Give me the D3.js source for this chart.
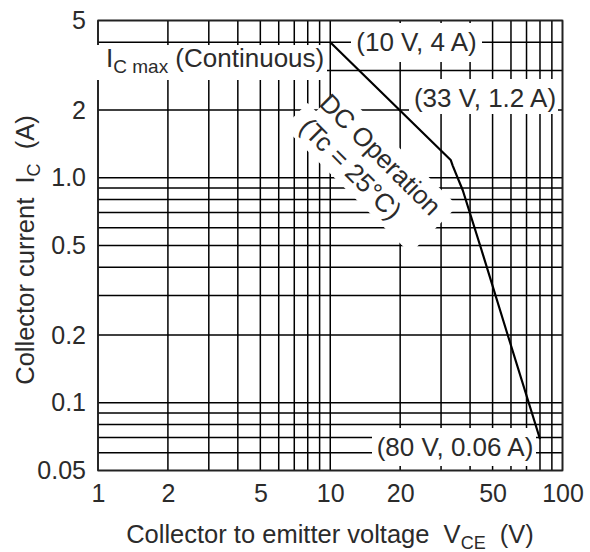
<!DOCTYPE html>
<html><head><meta charset="utf-8">
<script src="https://cdn.jsdelivr.net/npm/d3@7"></script>
<style>
html,body{margin:0;padding:0;background:#fff;}
svg{display:block;font-family:"Liberation Sans",Arial,Helvetica,sans-serif;}
</style></head>
<body>
<svg id="chart" width="590" height="552"></svg>
<script>
// ---- data ----
const xTicks = [1, 2, 5, 10, 20, 50, 100];
const xTickLabels = ["1", "2", "5", "10", "20", "50", "100"];
const yTicks = [0.05, 0.1, 0.2, 0.5, 1, 2, 5];
const yTickLabels = ["0.05", "0.1", "0.2", "0.5", "1.0", "2", "5"];
const xGrid = [1, 2, 3, 4, 5, 6, 7, 8, 9, 10, 20, 30, 40, 50, 60, 70, 80, 90, 100];
const yGrid = [0.05, 0.06, 0.07, 0.08, 0.09, 0.1, 0.2, 0.3, 0.4, 0.5, 0.6, 0.7, 0.8, 0.9, 1, 2, 3, 4, 5];
const soaVoltage = [10, 33, 33.7, 34.8, 37.2, 44.6, 59, 80];
const soaCurrent = [4, 1.2, 1.13, 1.04, 0.88, 0.485, 0.19, 0.069];
const pointLabels = ["(10 V, 4 A)", "(33 V, 1.2 A)", "(80 V, 0.06 A)"];

// ---- layout ----
const svg = d3.select("#chart");
const x = d3.scaleLog().domain([1, 100]).range([98, 562.5]);
const y = d3.scaleLog().domain([0.05, 5]).range([470.5, 20.5]);
const FS = 25;
const FA = 26;
const ink = "#2b2b2b";

// grid
const g = svg.append("g");
g.selectAll("line.v").data(xGrid).join("line")
  .attr("x1", d => x(d)).attr("x2", d => x(d))
  .attr("y1", y(5)).attr("y2", y(0.05))
  .attr("stroke", "#000").attr("stroke-width", 1.5);
g.selectAll("line.h").data(yGrid).join("line")
  .attr("y1", d => y(d)).attr("y2", d => y(d))
  .attr("x1", x(1)).attr("x2", x(100))
  .attr("stroke", "#000").attr("stroke-width", 1.5);

// frame
svg.append("rect").attr("x", x(1)).attr("y", y(5))
  .attr("width", x(100) - x(1)).attr("height", y(0.05) - y(5))
  .attr("fill", "none").attr("stroke", "#222").attr("stroke-width", 1.6);

// axes tick labels
const xAxis = d3.axisBottom(x).tickValues(xTicks).tickFormat((d, i) => xTickLabels[i]).tickSize(0).tickPadding(14);
const xa = svg.append("g").attr("transform", `translate(0,${y(0.05)})`).call(xAxis);
xa.select(".domain").remove();
xa.selectAll("text").attr("font-size", FS).attr("fill", ink).attr("font-family", "Liberation Sans, Arial, sans-serif");

const yAxis = d3.axisLeft(y).tickValues(yTicks).tickFormat((d, i) => yTickLabels[i]).tickSize(0).tickPadding(12);
const ya = svg.append("g").attr("transform", `translate(${x(1)},0)`).call(yAxis);
ya.select(".domain").remove();
ya.selectAll("text").attr("font-size", FS).attr("fill", ink).attr("font-family", "Liberation Sans, Arial, sans-serif");

// masks (white boxes behind annotations)
const masks = svg.append("g").attr("fill", "#fff");
masks.append("rect").attr("x", 95).attr("y", 45).attr("width", 232).attr("height", 35);
masks.append("rect").attr("x", 351).attr("y", 23).attr("width", 131).attr("height", 39);
masks.append("rect").attr("x", 409).attr("y", 79).attr("width", 149).attr("height", 35);
masks.append("rect").attr("x", 372).attr("y", 428).attr("width", 164).attr("height", 38);

// annotation text
const ann = svg.append("g").attr("fill", ink).attr("font-size", FA);
const ic = ann.append("text").attr("x", 106).attr("y", 67);
ic.append("tspan").text("I");
ic.append("tspan").attr("dy", 6).attr("font-size", 19).text("C max");
ic.append("tspan").attr("dy", -6).text(" (Continuous)");

ann.append("text").attr("x", 416.5).attr("y", 51).attr("text-anchor", "middle").text(pointLabels[0]);
ann.append("text").attr("x", 485).attr("y", 107).attr("text-anchor", "middle").text(pointLabels[1]);
ann.append("text").attr("x", 455).attr("y", 456).attr("text-anchor", "middle").text(pointLabels[2]);

// DC operation rotated label
const dc = svg.append("g").attr("transform", "translate(380.5,154.5) rotate(45)");
dc.append("rect").attr("x", -76).attr("y", -18).attr("width", 167).attr("height", 34).attr("fill", "#fff");
dc.append("rect").attr("x", -88).attr("y", 15).attr("width", 179).attr("height", 34).attr("fill", "#fff");
dc.append("text").attr("x", 0).attr("y", 9).attr("text-anchor", "middle")
  .attr("font-size", FA).attr("fill", ink).text("DC Operation");
dc.append("text").attr("x", -11).attr("y", 40).attr("text-anchor", "middle")
  .attr("font-size", FA).attr("fill", ink).text("(Tc = 25°C)");

// SOA curve
const pts = soaVoltage.map((v, i) => [v, soaCurrent[i]]);
svg.append("path").datum(pts)
  .attr("d", d3.line().x(d => x(d[0])).y(d => y(d[1])))
  .attr("fill", "none").attr("stroke", "#000").attr("stroke-width", 2.2)
  .attr("stroke-linejoin", "round");

// axis titles
const xt = svg.append("text").attr("x", 330).attr("y", 543).attr("text-anchor", "middle")
  .attr("font-size", FS + 0.5).attr("fill", ink);
xt.append("tspan").text("Collector to emitter voltage\u00A0\u00A0V");
xt.append("tspan").attr("dy", 6).attr("font-size", 18).text("CE");
xt.append("tspan").attr("dy", -6).text("\u00A0\u00A0(V)");

const yt = svg.append("text").attr("transform", "translate(34,250) rotate(-90)")
  .attr("text-anchor", "middle").attr("font-size", FS + 0.5).attr("fill", ink);
yt.append("tspan").text("Collector current\u00A0\u00A0I");
yt.append("tspan").attr("dy", 6).attr("font-size", 18).text("C");
yt.append("tspan").attr("dy", -6).text("\u00A0\u00A0(A)");
</script>
</body></html>
